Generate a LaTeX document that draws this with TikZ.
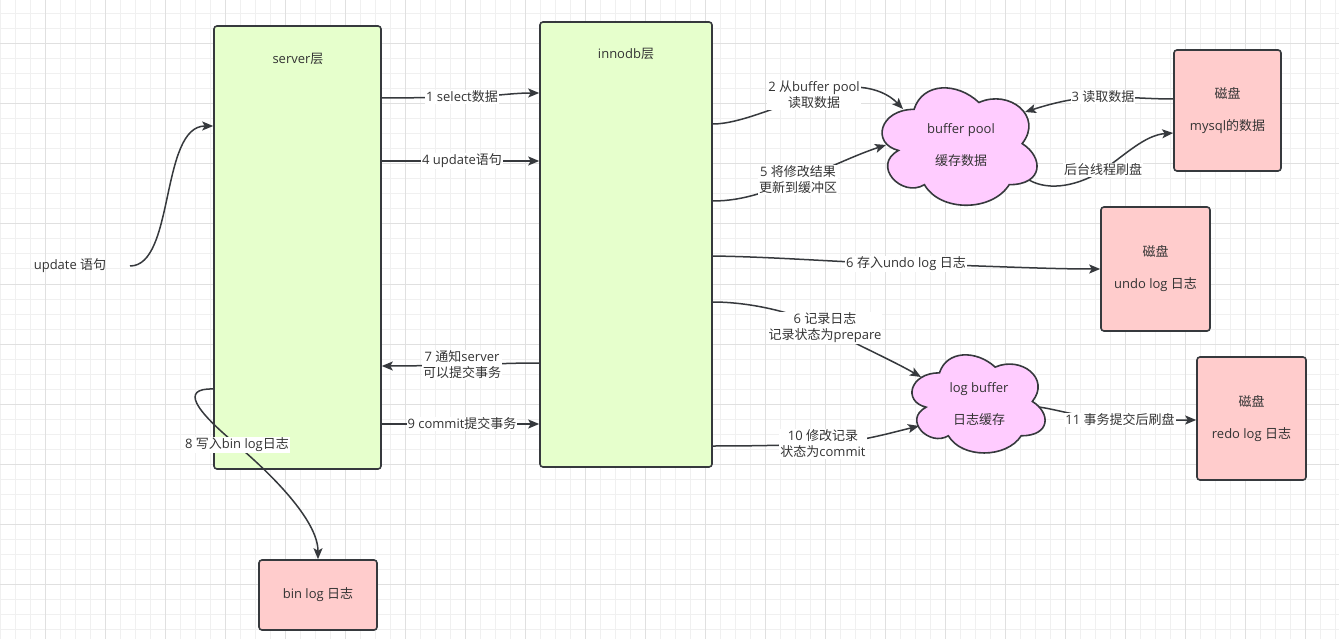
\documentclass[tikz,border=0pt]{standalone}
\usepackage{fontspec}
\setmainfont{Open Sans}
\newfontfamily\cjkfont{Noto Sans CJK SC}
\newcommand\cj[1]{{\cjkfont #1}}
\usetikzlibrary{arrows.meta}
\definecolor{txt}{HTML}{333333}
\definecolor{strk}{HTML}{36393D}
\definecolor{greenfill}{HTML}{E6FFCC}
\definecolor{pinkfill}{HTML}{FFCCCC}
\definecolor{cloudfill}{HTML}{FFCCFF}
\definecolor{gridminor}{HTML}{F0F0F0}
\definecolor{gridmajor}{HTML}{E0E0E0}
\newcommand\dcloud[4]{%
\path[cloudst] ({#1+0.25*#3},{#2+0.25*#4})
 .. controls ({#1+0.05*#3},{#2+0.25*#4}) and ({#1},{#2+0.5*#4}) .. ({#1+0.16*#3},{#2+0.55*#4})
 .. controls ({#1},{#2+0.66*#4}) and ({#1+0.18*#3},{#2+0.9*#4}) .. ({#1+0.31*#3},{#2+0.8*#4})
 .. controls ({#1+0.4*#3},{#2+#4}) and ({#1+0.7*#3},{#2+#4}) .. ({#1+0.8*#3},{#2+0.8*#4})
 .. controls ({#1+#3},{#2+0.8*#4}) and ({#1+#3},{#2+0.6*#4}) .. ({#1+0.875*#3},{#2+0.5*#4})
 .. controls ({#1+#3},{#2+0.3*#4}) and ({#1+0.8*#3},{#2+0.1*#4}) .. ({#1+0.625*#3},{#2+0.2*#4})
 .. controls ({#1+0.5*#3},{#2+0.05*#4}) and ({#1+0.3*#3},{#2+0.05*#4}) .. cycle;}
\begin{document}
\begin{tikzpicture}[x=1pt,y=-1pt,
  every node/.style={font=\fontsize{13}{16}\selectfont, text=txt},
  layerbox/.style={draw=strk, fill=greenfill, line width=1.6pt, rounded corners=3pt, inner sep=0pt},
  diskbox/.style={draw=strk, fill=pinkfill, line width=1.6pt, rounded corners=3pt, align=center, inner sep=0pt},
  cloudst/.style={draw=strk, fill=cloudfill, line width=1.6pt},
  arr/.style={draw=strk, line width=1.5pt, -{Stealth[length=11pt,width=9pt,inset=2.5pt]}},
  lab/.style={fill=white, inner sep=1pt, align=center},
  ]
\useasboundingbox (0,0) rectangle (1339,639);
\fill[white] (0,0) rectangle (1339,639);
% grid
\draw[gridminor, line width=1pt]
  foreach \i in {0,...,89} {({0.7+15*\i},0) -- ({0.7+15*\i},639)}
  foreach \j in {0,...,42} {(0,{14+15*\j}) -- (1339,{14+15*\j})};
\draw[gridmajor, line width=1pt]
  foreach \i in {0,...,21} {({45.7+60*\i},0) -- ({45.7+60*\i},639)}
  foreach \j in {0,...,10} {(0,{44+60*\j}) -- (1339,{44+60*\j})};

% boxes
\node[layerbox, minimum width=167pt, minimum height=443pt] (server) at (297.5,247.5) {};
\node (servert) at (298,59) {server\cj{层}};
\node[layerbox, minimum width=172pt, minimum height=445pt] (innodb) at (626,244.5) {};
\node (innodbt) at (626,54) {innodb\cj{层}};
\node[diskbox, minimum width=107pt, minimum height=121pt] (mysql) at (1227.5,110.5) {\cj{磁盘}\\[16pt]mysql\cj{的数据}};
\node[diskbox, minimum width=109pt, minimum height=124pt] (undo) at (1155.5,269) {\cj{磁盘}\\[16pt]undo log \cj{日志}};
\node[diskbox, minimum width=109pt, minimum height=123pt] (redo) at (1251.5,418.5) {\cj{磁盘}\\[16pt]redo log \cj{日志}};
\node[diskbox, minimum width=118pt, minimum height=70pt] (binlog) at (318,595) {bin log \cj{日志}};

% clouds
\dcloud{870.8}{75.1}{173}{137}
\node[align=center] (bp) at (961,145) {buffer pool\\[16pt]\cj{缓存数据}};
\dcloud{902.3}{344.2}{148.6}{114.5}
\node[align=center] (lb) at (979,404.5) {log buffer\\[16pt]\cj{日志缓存}};

\node (upd) at (70,266) {update \cj{语句}};
\coordinate (updout) at (130,266);

\coordinate (bpA) at (903,109);
\coordinate (bpB) at (886,145);
\coordinate (bpC) at (1025,112);
\coordinate (bpD) at (1029,180);
\coordinate (lbA) at (921,377);
\coordinate (lbB) at (919,426);
\coordinate (lbC) at (1039,407);

% edges
\draw[arr] (updout) .. controls (175,266) and (160,126) .. (server.west |- 0,126);
\draw[arr] (server.east |- 0,98) .. controls (420,98) and (440,97) .. (462,97) node[lab]{1 select\cj{数据}} .. controls (490,97) and (510,93) .. (innodb.west |- 0,93);
\draw[arr] (server.east |- 0,161) -- (462,161) node[lab]{4 update\cj{语句}} -- (innodb.west |- 0,161);
\draw[arr] (innodb.west |- 0,363) .. controls (500,363) and (480,365) .. (462,365) node[lab]{7 \cj{通知}server\\\cj{可以提交事务}} .. controls (440,365) and (420,366) .. (server.east |- 0,366);
\draw[arr] (server.east |- 0,424) -- (462,424) node[lab]{9 commit\cj{提交事务}} -- (innodb.west |- 0,424);
\draw[arr] (server.west |- 0,389) .. controls (180,388) and (195,410) .. (237,445) node[lab]{8 \cj{写入}bin log\cj{日志}} .. controls (270,473) and (318,520) .. (binlog.north);

\draw[arr] (innodb.east |- 0,124) .. controls (740,124) and (780,105) .. (814,95) node[lab]{2 \cj{从}buffer pool\\\cj{读取数据}} .. controls (845,82) and (880,85) .. (bpA);
\draw[arr] (innodb.east |- 0,201) .. controls (745,201) and (770,190) .. (798,180) node[lab]{5 \cj{将修改结果}\\\cj{更新到缓冲区}} .. controls (825,170) and (855,155) .. (bpB);
\draw[arr] (mysql.west |- 0,99) .. controls (1150,99) and (1130,97) .. (1103,97) node[lab]{3 \cj{读取数据}} .. controls (1075,97) and (1050,104) .. (bpC);
\draw[arr] (bpD) .. controls (1050,192) and (1080,185) .. (1103,170) node[lab]{\cj{后台线程刷盘}} .. controls (1125,155) and (1145,135) .. (mysql.west |- 0,133);
\draw[arr] (innodb.east |- 0,256) .. controls (780,257) and (850,263) .. (906,264) node[lab]{6 \cj{存入}undo log \cj{日志}} .. controls (970,265) and (1040,269) .. (undo.west |- 0,269);
\draw[arr] (innodb.east |- 0,302) .. controls (745,302) and (790,310) .. (825,328) node[lab]{6 \cj{记录日志}\\\cj{记录状态为}prepare} .. controls (860,346) and (895,362) .. (lbA);
\draw[arr] (innodb.east |- 0,446) .. controls (760,446) and (790,445) .. (823,444) node[lab]{10 \cj{修改记录}\\\cj{状态为}commit} .. controls (860,442) and (890,433) .. (lbB);
\draw[arr] (lbC) .. controls (1060,410) and (1090,420) .. (1120,420) node[lab]{11 \cj{事务提交后刷盘}} -- (redo.west |- 0,420);
\end{tikzpicture}
\end{document}
